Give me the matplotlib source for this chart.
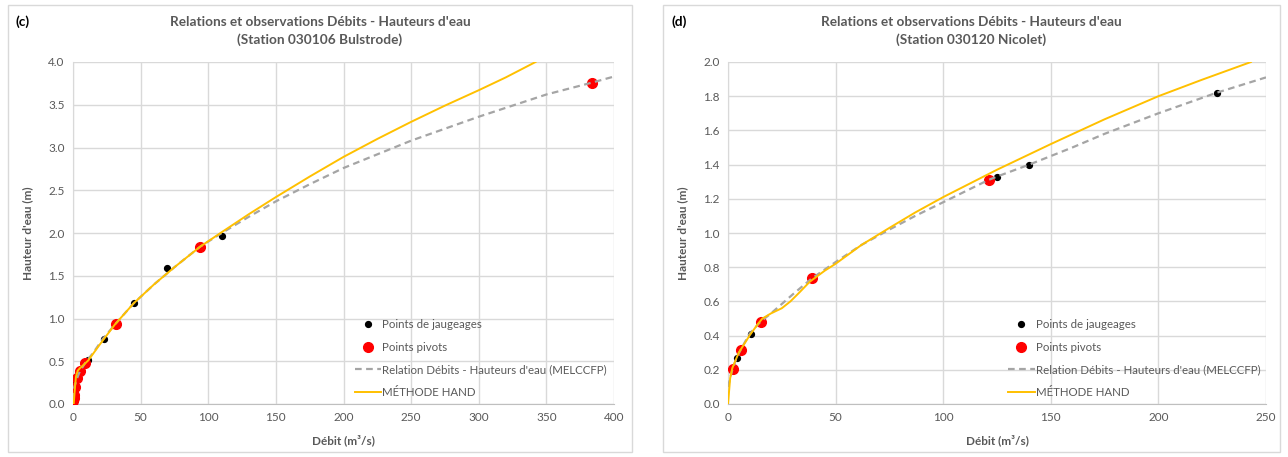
import numpy as np
import matplotlib.pyplot as plt
from matplotlib.patches import Rectangle

plt.rcParams['font.family'] = ['Lato', 'DejaVu Sans']

# --- (c) Station 030106 Bulstrode ---
c_jaug_q = [1.5, 10.8, 22.7, 45, 69.5, 110]
c_jaug_h = [0.28, 0.51, 0.76, 1.18, 1.59, 1.96]
c_piv_q = [0.3, 0.5, 0.7, 1.5, 2.7, 5.2, 8.9, 31.5, 94, 384]
c_piv_h = [0.03, 0.07, 0.11, 0.20, 0.30, 0.39, 0.48, 0.93, 1.84, 3.76]
c_rel_q = [0, 1, 3, 5, 9, 15, 22, 31, 45, 60, 75, 94, 110, 130, 150, 175, 200, 225, 250, 275, 300, 325, 350, 384, 400]
c_rel_h = [0.05, 0.2, 0.3, 0.38, 0.48, 0.6, 0.76, 0.93, 1.18, 1.40, 1.60, 1.84, 2.0, 2.19, 2.37, 2.57, 2.76, 2.92, 3.08, 3.22, 3.36, 3.49, 3.62, 3.76, 3.83]
c_hand_q = [0.5, 1.5, 2.2, 3.5, 5.2, 8, 11.3, 20, 31, 45, 60, 75, 94, 110, 130, 150, 175, 200, 225, 250, 275, 300, 320, 342]
c_hand_h = [0.0, 0.2, 0.32, 0.39, 0.42, 0.46, 0.51, 0.7, 0.93, 1.18, 1.40, 1.60, 1.84, 2.01, 2.22, 2.42, 2.66, 2.89, 3.10, 3.30, 3.49, 3.67, 3.82, 4.0]

# --- (d) Station 030120 Nicolet ---
d_jaug_q = [4.0, 10.5, 125, 140, 227]
d_jaug_h = [0.27, 0.41, 1.33, 1.40, 1.82]
d_piv_q = [2.2, 5.9, 15.3, 38.9, 121.3]
d_piv_h = [0.206, 0.316, 0.478, 0.735, 1.31]
d_rel_q = [0, 2, 4, 6, 10, 15, 20, 30, 39, 50, 62, 75, 87, 100, 121, 125, 140, 160, 175, 200, 227, 250]
d_rel_h = [0.1, 0.2, 0.27, 0.32, 0.41, 0.48, 0.53, 0.64, 0.735, 0.83, 0.93, 1.02, 1.10, 1.18, 1.31, 1.33, 1.40, 1.50, 1.58, 1.70, 1.82, 1.91]
d_hand_q = [0, 1, 2, 5, 10, 14, 16, 20, 25, 29, 33, 38, 45, 50, 62, 75, 87, 100, 125, 150, 175, 200, 220, 243]
d_hand_h = [0.0, 0.15, 0.21, 0.30, 0.40, 0.47, 0.50, 0.53, 0.56, 0.60, 0.65, 0.715, 0.78, 0.82, 0.93, 1.03, 1.12, 1.21, 1.37, 1.52, 1.665, 1.80, 1.895, 2.0]

panels = [
    dict(tag='(c)', station='(Station 030106 Bulstrode)',
         jq=c_jaug_q, jh=c_jaug_h, pq=c_piv_q, ph=c_piv_h,
         rq=c_rel_q, rh=c_rel_h, hq=c_hand_q, hh=c_hand_h,
         xmax=400, xstep=50, ymax=4.0, ystep=0.5,
         ax_px=(73, 614), box_px=(8, 632)),
    dict(tag='(d)', station='(Station 030120 Nicolet)',
         jq=d_jaug_q, jh=d_jaug_h, pq=d_piv_q, ph=d_piv_h,
         rq=d_rel_q, rh=d_rel_h, hq=d_hand_q, hh=d_hand_h,
         xmax=250, xstep=50, ymax=2.0, ystep=0.2,
         ax_px=(728, 1266), box_px=(663, 1280)),
]

W, H = 1288, 457
fig = plt.figure(figsize=(W / 100, H / 100), dpi=100)
txt = '#595959'
grid = '#d9d9d9'

for p in panels:
    x0, x1 = p['ax_px']
    b0, b1 = p['box_px']
    fig.patches.append(Rectangle((b0 / W, 5 / H), (b1 - b0) / W, (452 - 5) / H,
                                 transform=fig.transFigure, fill=False,
                                 edgecolor='#d9d9d9', linewidth=1))
    ax = fig.add_axes([x0 / W, (H - 404) / H, (x1 - x0) / W, 342 / H])
    ax.plot(p['jq'], p['jh'], 'o', color='black', markersize=4.2,
            label='Points de jaugeages', zorder=3)
    ax.plot(p['pq'], p['ph'], 'o', color='#ff0000', markersize=7,
            label='Points pivots', zorder=3)
    ax.plot(p['rq'], p['rh'], '--', color='#a5a5a5', linewidth=1.6,
            dashes=(3, 2), label="Relation Débits - Hauteurs d'eau (MELCCFP)", zorder=4)
    ax.plot(p['hq'], p['hh'], '-', color='#ffc000', linewidth=1.4,
            label='MÉTHODE HAND', zorder=5)

    ax.set_xlim(0, p['xmax'])
    ax.set_ylim(0, p['ymax'])
    ax.set_xticks(np.arange(0, p['xmax'] + 1, p['xstep']))
    yt = np.arange(0, p['ymax'] + p['ystep'] / 2, p['ystep'])
    ax.set_yticks(yt)
    ax.set_yticklabels(['%.1f' % v for v in yt])
    ax.grid(True, color=grid, linewidth=1)
    ax.set_axisbelow(True)
    for s in ['top', 'right']:
        ax.spines[s].set_visible(False)
    ax.spines['left'].set_color('#d9d9d9')
    ax.spines['bottom'].set_color('#bfbfbf')
    ax.tick_params(length=0, colors=txt, labelsize=8.5, pad=6)
    ax.set_xlabel('Débit (m³/s)', fontsize=8.5, fontweight='bold', color=txt, labelpad=8)
    ax.set_ylabel("Hauteur d'eau (m)", fontsize=8.5, fontweight='bold', color=txt, labelpad=11)

    leg = ax.legend(loc='upper left', bbox_to_anchor=(0.512, 0.262), frameon=False,
                    fontsize=8.3, handlelength=2.3, handletextpad=0.1,
                    labelspacing=1.0, borderaxespad=0)
    for t in leg.get_texts():
        t.set_color(txt)

    cx = (b0 + b1) / 2 / W
    fig.text(cx, 1 - 22 / H, "Relations et observations Débits - Hauteurs d'eau",
             ha='center', va='center', fontsize=9.8, fontweight='bold', color=txt)
    fig.text(cx, 1 - 40 / H, p['station'],
             ha='center', va='center', fontsize=9.8, fontweight='bold', color=txt)
    fig.text((b0 + 8) / W, 1 - 22 / H, p['tag'], ha='left', va='center',
             fontsize=9.8, fontweight='bold', color='black')

fig.savefig('out.png', dpi=100)
